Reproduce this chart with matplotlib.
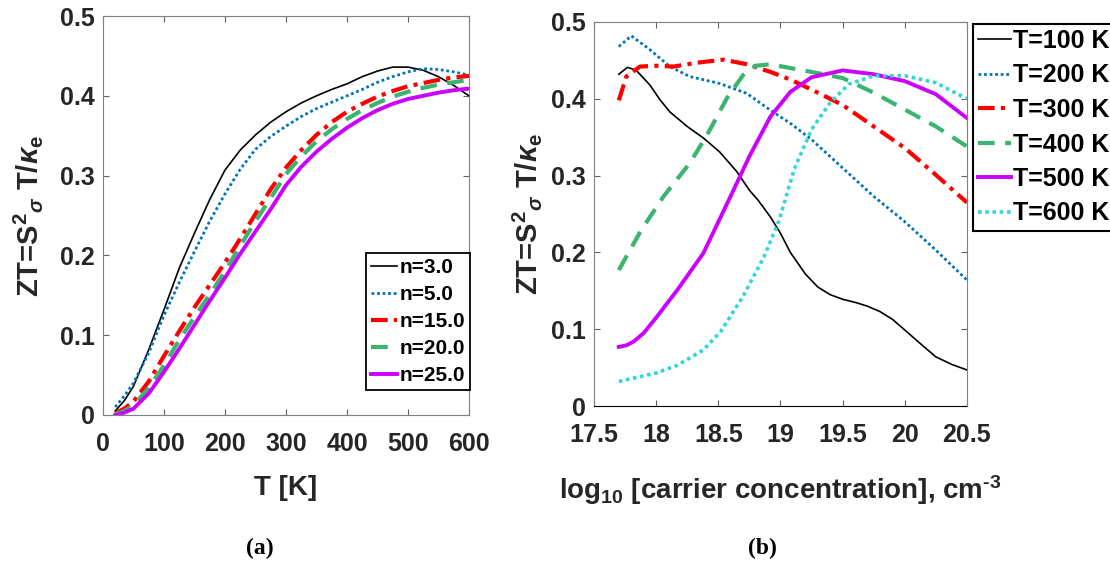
import numpy as np
import matplotlib
matplotlib.use("Agg")
import matplotlib.pyplot as plt

plt.rcParams['font.family'] = ['Liberation Sans', 'DejaVu Sans']
plt.rcParams['font.weight'] = 'bold'
plt.rcParams['mathtext.fontset'] = 'custom'
plt.rcParams['mathtext.rm'] = 'Liberation Sans:bold'
plt.rcParams['mathtext.it'] = 'Liberation Sans:italic:bold'
plt.rcParams['mathtext.bf'] = 'Liberation Sans:bold'

TXT = '#262626'

# ---- (a) ZT vs temperature for several n ----
T = [20, 35, 50, 75, 100, 125, 150, 175, 200, 225, 250, 275, 300, 325, 350, 375, 400,
     425, 450, 475, 500, 525, 550, 575, 600]
zt_n3 = [0.005, 0.018, 0.036, 0.082, 0.132, 0.184, 0.228, 0.270, 0.307, 0.332, 0.351, 0.367,
         0.380, 0.391, 0.400, 0.408, 0.415, 0.424, 0.431, 0.436, 0.436, 0.432, 0.424, 0.413, 0.400]
zt_n5 = [0.010, 0.024, 0.040, 0.078, 0.125, 0.166, 0.205, 0.243, 0.277, 0.308, 0.333, 0.349,
         0.362, 0.374, 0.384, 0.392, 0.400, 0.408, 0.417, 0.424, 0.430, 0.434, 0.433, 0.430, 0.426]
zt_n15 = [0.002, 0.008, 0.017, 0.042, 0.074, 0.105, 0.135, 0.163, 0.191, 0.221, 0.252, 0.283,
          0.310, 0.332, 0.351, 0.367, 0.380, 0.390, 0.399, 0.406, 0.412, 0.416, 0.420, 0.423, 0.425]
zt_n20 = [0.001, 0.005, 0.012, 0.034, 0.062, 0.094, 0.123, 0.151, 0.180, 0.212, 0.243, 0.272,
          0.302, 0.324, 0.343, 0.358, 0.371, 0.382, 0.391, 0.399, 0.405, 0.410, 0.414, 0.417, 0.420]
zt_n25 = [0.000, 0.003, 0.008, 0.027, 0.054, 0.083, 0.113, 0.143, 0.172, 0.202, 0.230, 0.258,
          0.288, 0.311, 0.330, 0.346, 0.360, 0.372, 0.382, 0.390, 0.396, 0.400, 0.404, 0.407, 0.409]
n_labels = ['n=3.0', 'n=5.0', 'n=15.0', 'n=20.0', 'n=25.0']

# ---- (b) ZT vs log10 carrier concentration for several T ----
x_100 = [17.70, 17.77, 17.84, 17.95, 18.03, 18.11, 18.25, 18.38, 18.51, 18.65, 18.75, 18.82,
         18.92, 19.00, 19.08, 19.20, 19.30, 19.40, 19.50, 19.60, 19.70, 19.80, 19.90, 20.00,
         20.12, 20.25, 20.38, 20.50]
zt_100 = [0.432, 0.441, 0.437, 0.418, 0.399, 0.383, 0.364, 0.349, 0.331, 0.305, 0.281, 0.268,
          0.246, 0.225, 0.200, 0.172, 0.155, 0.145, 0.139, 0.135, 0.130, 0.123, 0.113, 0.099,
          0.082, 0.064, 0.054, 0.047]
x_200 = [17.70, 17.80, 17.95, 18.11, 18.27, 18.51, 18.73, 18.92, 19.08, 19.25, 19.50, 19.75,
         20.00, 20.25, 20.50]
zt_200 = [0.468, 0.482, 0.464, 0.442, 0.429, 0.420, 0.407, 0.385, 0.368, 0.347, 0.310, 0.273,
          0.240, 0.203, 0.164]
x_300 = [17.70, 17.76, 17.87, 18.00, 18.14, 18.33, 18.54, 18.73, 18.92, 19.08, 19.25, 19.50,
         19.75, 20.00, 20.25, 20.50]
zt_300 = [0.398, 0.429, 0.442, 0.443, 0.442, 0.447, 0.451, 0.445, 0.435, 0.425, 0.412, 0.392,
          0.364, 0.336, 0.301, 0.265]
x_400 = [17.70, 17.88, 18.06, 18.27, 18.41, 18.57, 18.70, 18.80, 18.92, 19.08, 19.25, 19.50,
         19.75, 20.00, 20.25, 20.50]
zt_400 = [0.177, 0.229, 0.273, 0.316, 0.353, 0.401, 0.431, 0.443, 0.445, 0.440, 0.435, 0.427,
          0.408, 0.386, 0.364, 0.338]
x_500 = [17.70, 17.76, 17.82, 17.90, 18.00, 18.17, 18.38, 18.59, 18.75, 18.92, 19.08, 19.25,
         19.50, 19.75, 20.00, 20.25, 20.50]
zt_500 = [0.077, 0.079, 0.084, 0.095, 0.115, 0.151, 0.199, 0.270, 0.325, 0.377, 0.409, 0.428,
          0.437, 0.432, 0.423, 0.406, 0.375]
x_600 = [17.70, 18.00, 18.17, 18.38, 18.52, 18.70, 18.87, 18.99, 19.11, 19.25, 19.40, 19.55,
         19.75, 20.00, 20.25, 20.50]
zt_600 = [0.032, 0.043, 0.053, 0.073, 0.097, 0.143, 0.195, 0.242, 0.308, 0.360, 0.395, 0.419,
          0.430, 0.430, 0.421, 0.400]
t_labels = ['T=100 K', 'T=200 K', 'T=300 K', 'T=400 K', 'T=500 K', 'T=600 K']

blue = '#0072BD'
red = '#FF0000'
green = '#3CB371'
magenta = '#CC00FF'
cyan = '#33D6D6'

styles = [
    dict(color='black', lw=1.2, ls='-'),
    dict(color=blue, lw=2.0, ls=(0, (1, 1))),
    dict(color=red, lw=3.0, ls=(0, (4, 1.5, 1, 1.5))),
    dict(color=green, lw=3.0, ls=(0, (4, 2.5))),
    dict(color=magenta, lw=2.8, ls='-'),
    dict(color=cyan, lw=2.6, ls=(0, (1, 1))),
]

fig = plt.figure(figsize=(11.1, 5.64), dpi=100)
ax1 = fig.add_axes([0.0928, 0.2642, 0.3297, 0.7074])
ax2 = fig.add_axes([0.5351, 0.2801, 0.3360, 0.6809])

ylab = r'ZT=S$^2$$_\sigma$ T/$\kappa_{\mathrm{e}}$'


def style_axes(ax):
    for sp in ax.spines.values():
        sp.set_color('#808080')
        sp.set_linewidth(0.8)
    ax.tick_params(direction='in', length=4, width=0.8, color='#606060',
                   top=True, right=True, labelsize=18, labelcolor=TXT, pad=12)
    ax.tick_params(axis='y', pad=6)


# panel (a)
for ys, lab, st in zip([zt_n3, zt_n5, zt_n15, zt_n20, zt_n25], n_labels, styles[:5]):
    ax1.plot(T, ys, label=lab, **st)
ax1.set_xlim(0, 600)
ax1.set_ylim(0, 0.5)
ax1.set_xticks([0, 100, 200, 300, 400, 500, 600])
ax1.set_yticks([0, 0.1, 0.2, 0.3, 0.4, 0.5])
ax1.set_yticklabels(['0', '0.1', '0.2', '0.3', '0.4', '0.5'])
style_axes(ax1)
ax1.set_xlabel('T [K]', fontsize=20, color=TXT, fontweight='bold')
ax1.set_ylabel(ylab, fontsize=21, color=TXT, fontweight='bold')
ax1.xaxis.set_label_coords(0.5, -0.183)
ax1.xaxis.label.set_va('center')
ax1.yaxis.set_label_coords(-0.205, 0.5)
ax1.yaxis.label.set_va('center')
leg1 = ax1.legend(loc='upper left', bbox_to_anchor=(366 / 1110, 1 - 253 / 564),
                  bbox_transform=fig.transFigure, fontsize=15, handlelength=1.25,
                  handletextpad=0.1, borderpad=0.25, labelspacing=0.38,
                  fancybox=False, framealpha=1, borderaxespad=0)
leg1.get_frame().set_edgecolor('black')
leg1.get_frame().set_linewidth(1.3)

# panel (b)
for xs, ys, lab, st in zip([x_100, x_200, x_300, x_400, x_500, x_600],
                           [zt_100, zt_200, zt_300, zt_400, zt_500, zt_600], t_labels, styles):
    ax2.plot(xs, ys, label=lab, **st)
ax2.set_xlim(17.5, 20.5)
ax2.set_ylim(0, 0.5)
ax2.set_xticks([17.5, 18, 18.5, 19, 19.5, 20, 20.5])
ax2.set_xticklabels(['17.5', '18', '18.5', '19', '19.5', '20', '20.5'])
ax2.set_yticks([0, 0.1, 0.2, 0.3, 0.4, 0.5])
ax2.set_yticklabels(['0', '0.1', '0.2', '0.3', '0.4', '0.5'])
style_axes(ax2)
ax2.spines['bottom'].set_color('black')
ax2.spines['bottom'].set_linestyle((0, (1, 1)))
ax2.set_xlabel('log$_{10}$ [carrier concentration], cm$^{\u2010 3}$', fontsize=20,
               color=TXT, fontweight='bold')
ax2.set_ylabel(ylab, fontsize=21, color=TXT, fontweight='bold')
ax2.xaxis.set_label_coords(0.5, -0.219)
ax2.xaxis.label.set_va('center')
ax2.yaxis.set_label_coords(-0.18, 0.5)
ax2.yaxis.label.set_va('center')
leg2 = ax2.legend(loc='upper left', bbox_to_anchor=(973 / 1110, 1 - 24 / 564),
                  bbox_transform=fig.transFigure, fontsize=18, handlelength=1.3,
                  handletextpad=0.1, borderpad=0.2, labelspacing=0.42,
                  fancybox=False, framealpha=1, borderaxespad=0)
leg2.get_frame().set_edgecolor('black')
leg2.get_frame().set_linewidth(1.5)

fig.text(260 / 1110, 1 - 548 / 564, '(a)', family='Liberation Serif', fontweight='bold',
         fontsize=17, ha='center', va='center')
fig.text(762 / 1110, 1 - 548 / 564, '(b)', family='Liberation Serif', fontweight='bold',
         fontsize=17, ha='center', va='center')

fig.savefig('out.png', dpi=100)
